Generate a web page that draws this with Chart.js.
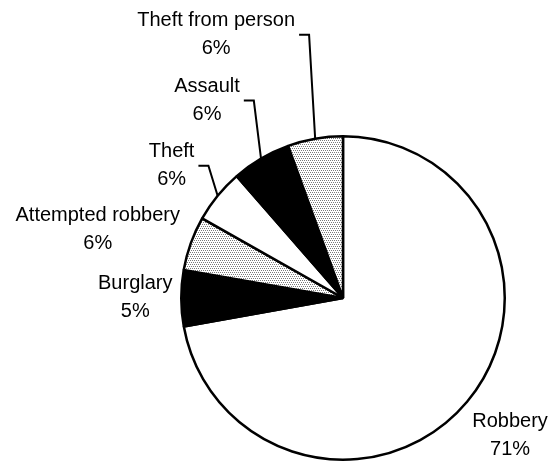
<!DOCTYPE html>
<html>
<head>
<meta charset="utf-8">
<script src="https://cdn.jsdelivr.net/npm/chart.js@4"></script>
<style>
  html, body { margin: 0; padding: 0; background: #fff; }
  #wrap { width: 552px; height: 463px; }
</style>
</head>
<body>
<div id="wrap"><canvas id="pie" width="552" height="463"></canvas></div>
<script>
const categories = ["Robbery", "Burglary", "Attempted robbery", "Theft", "Assault", "Theft from person"];
const shares = [72.1, 5.6, 5.4, 5.4, 5.9, 5.5];
const pctLabels = ["71%", "5%", "6%", "6%", "6%", "6%"];
const fills = ["white", "black", "dots", "white", "black", "dots"];

// label block centre relative to the slice's outer mid point; leader = draw elbow line
const labelLayout = [
  { dx: 43, dy: 34, leader: false },
  { dx: -46, dy: -1, leader: false },
  { dx: -93, dy: -14, leader: false },
  { dx: -46, dy: -30, leader: true },
  { dx: -54, dy: -58, leader: true },
  { dx: -99, dy: -104, leader: true }
];

function dotPattern() {
  const c = document.createElement("canvas");
  c.width = 4; c.height = 4;
  const g = c.getContext("2d");
  g.fillStyle = "#ffffff";
  g.fillRect(0, 0, 4, 4);
  g.fillStyle = "#7a7a7a";
  g.fillRect(0, 0, 1, 1);
  g.fillRect(2, 0, 1, 1);
  g.fillRect(1, 2, 1, 1);
  g.fillRect(3, 2, 1, 1);
  return g.createPattern(c, "repeat");
}

const ctx = document.getElementById("pie").getContext("2d");
const dots = dotPattern();
const bg = fills.map(f => f === "dots" ? dots : (f === "black" ? "#000000" : "#ffffff"));

const calloutPlugin = {
  id: "callouts",
  afterDatasetsDraw(chart) {
    const c = chart.ctx;
    const arcs = chart.getDatasetMeta(0).data;
    c.save();
    c.font = "20px 'Liberation Sans', Arial, sans-serif";
    c.fillStyle = "#000";
    c.textAlign = "center";
    c.textBaseline = "middle";
    c.strokeStyle = "#000";
    c.lineWidth = 2;
    arcs.forEach((arc, i) => {
      const p = arc.getProps(["x", "y", "startAngle", "endAngle", "outerRadius"], true);
      const mid = (p.startAngle + p.endAngle) / 2;
      const ax = p.x + Math.cos(mid) * p.outerRadius;
      const ay = p.y + Math.sin(mid) * p.outerRadius;
      const lay = labelLayout[i];
      const cx = ax + lay.dx;
      const cy = ay + lay.dy;
      c.fillText(categories[i], cx, cy - 14);
      c.fillText(pctLabels[i], cx, cy + 14);
      if (lay.leader) {
        const w = c.measureText(categories[i]).width;
        const x0 = cx + w / 2 + 4;
        const ex = x0 + 10;
        c.beginPath();
        c.moveTo(x0, cy);
        c.lineTo(ex, cy);
        c.lineTo(ax, ay);
        c.stroke();
      }
    });
    c.restore();
  }
};

new Chart(ctx, {
  type: "pie",
  data: {
    labels: categories,
    datasets: [{
      data: shares,
      backgroundColor: bg,
      borderColor: "#000000",
      borderWidth: 2.5
    }]
  },
  options: {
    responsive: false,
    animation: false,
    layout: { padding: { left: 180, right: 46, top: 135, bottom: 2 } },
    plugins: { legend: { display: false }, tooltip: { enabled: false } }
  },
  plugins: [calloutPlugin]
});
</script>
</body>
</html>
